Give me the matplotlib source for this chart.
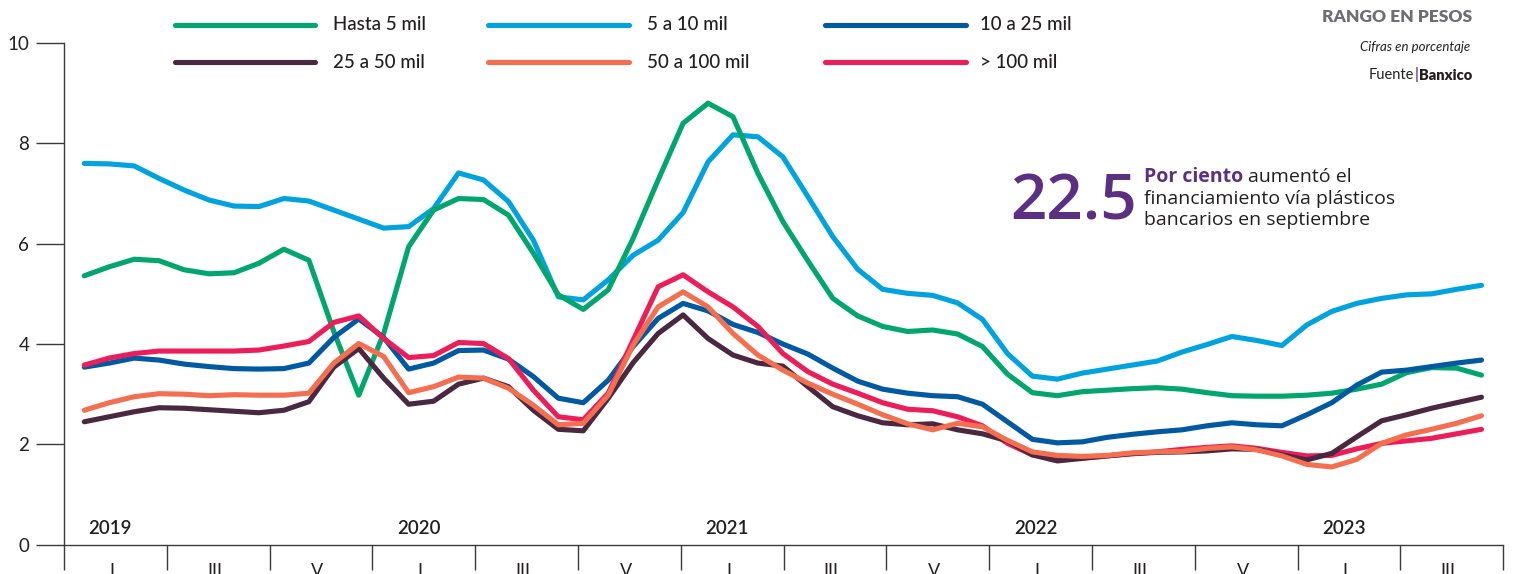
import numpy as np
import matplotlib
matplotlib.use("Agg")
import matplotlib.pyplot as plt
from matplotlib.lines import Line2D

plt.rcParams['font.family'] = ['Lato', 'DejaVu Sans']

# ---------------- data (monthly, Jan 2019 - Sep 2023) ----------------
series_names = ["Hasta 5 mil", "5 a 10 mil", "10 a 25 mil",
                "25 a 50 mil", "50 a 100 mil", "> 100 mil"]

hasta_5 = [5.36, 5.54, 5.69, 5.66, 5.48, 5.40, 5.42, 5.61, 5.89, 5.67,
           4.25, 2.98, 4.21, 5.94, 6.67, 6.90, 6.88, 6.57, 5.81, 4.98,
           4.69, 5.08, 6.11, 7.27, 8.40, 8.80, 8.53, 7.40, 6.44, 5.66,
           4.91, 4.56, 4.35, 4.25, 4.28, 4.20, 3.95, 3.40, 3.03, 2.97,
           3.05, 3.08, 3.11, 3.13, 3.10, 3.03, 2.97, 2.96, 2.96, 2.98,
           3.02, 3.10, 3.20, 3.43, 3.53, 3.52, 3.38]
de_5_a_10 = [7.60, 7.59, 7.55, 7.30, 7.07, 6.87, 6.75, 6.74, 6.90, 6.85,
             6.67, 6.49, 6.31, 6.34, 6.70, 7.41, 7.27, 6.84, 6.07, 4.94,
             4.88, 5.28, 5.77, 6.07, 6.62, 7.63, 8.17, 8.13, 7.73, 6.94,
             6.14, 5.49, 5.09, 5.01, 4.97, 4.82, 4.49, 3.81, 3.36, 3.30,
             3.42, 3.50, 3.58, 3.66, 3.84, 3.99, 4.15, 4.07, 3.97, 4.38,
             4.65, 4.81, 4.91, 4.98, 5.00, 5.09, 5.17]
de_10_a_25 = [3.54, 3.62, 3.72, 3.68, 3.60, 3.55, 3.51, 3.50, 3.51, 3.62,
              4.13, 4.50, 4.13, 3.50, 3.62, 3.87, 3.88, 3.70, 3.35, 2.92,
              2.83, 3.28, 3.95, 4.51, 4.81, 4.66, 4.39, 4.23, 4.00, 3.80,
              3.52, 3.26, 3.10, 3.02, 2.97, 2.95, 2.80, 2.45, 2.10, 2.03,
              2.05, 2.14, 2.20, 2.25, 2.29, 2.37, 2.43, 2.39, 2.37, 2.59,
              2.83, 3.18, 3.44, 3.48, 3.55, 3.62, 3.68]
de_25_a_50 = [2.45, 2.55, 2.65, 2.73, 2.72, 2.69, 2.66, 2.63, 2.68, 2.85,
              3.54, 3.91, 3.32, 2.80, 2.86, 3.20, 3.32, 3.15, 2.68, 2.30,
              2.27, 2.92, 3.63, 4.21, 4.58, 4.11, 3.78, 3.62, 3.56, 3.15,
              2.75, 2.57, 2.43, 2.39, 2.41, 2.29, 2.21, 2.07, 1.79, 1.67,
              1.72, 1.77, 1.82, 1.84, 1.85, 1.87, 1.91, 1.90, 1.79, 1.69,
              1.82, 2.15, 2.47, 2.59, 2.72, 2.83, 2.94]
de_50_a_100 = [2.68, 2.83, 2.95, 3.01, 3.00, 2.97, 2.99, 2.98, 2.98, 3.02,
               3.62, 4.01, 3.75, 3.03, 3.15, 3.34, 3.32, 3.12, 2.78, 2.39,
               2.42, 2.98, 3.98, 4.74, 5.04, 4.74, 4.21, 3.78, 3.48, 3.22,
               3.00, 2.80, 2.59, 2.41, 2.29, 2.42, 2.35, 2.08, 1.85, 1.78,
               1.76, 1.78, 1.83, 1.85, 1.86, 1.92, 1.95, 1.89, 1.77, 1.60,
               1.55, 1.70, 2.02, 2.19, 2.30, 2.42, 2.57]
mas_de_100 = [3.58, 3.72, 3.81, 3.86, 3.86, 3.86, 3.86, 3.88, 3.96, 4.05,
              4.43, 4.56, 4.11, 3.73, 3.77, 4.03, 4.01, 3.71, 3.08, 2.55,
              2.49, 3.02, 4.08, 5.14, 5.38, 5.04, 4.74, 4.35, 3.81, 3.45,
              3.20, 3.02, 2.83, 2.70, 2.67, 2.55, 2.37, 2.02, 1.79, 1.72,
              1.73, 1.77, 1.81, 1.85, 1.90, 1.94, 1.97, 1.92, 1.84, 1.77,
              1.78, 1.91, 2.02, 2.07, 2.12, 2.21, 2.30]

segment_labels = ["I", "III", "V", "I", "III", "V", "I", "III", "V",
                  "I", "III", "V", "I", "III"]
year_labels = ["2019", "2020", "2021", "2022", "2023"]
y_ticks = [0, 2, 4, 6, 8, 10]

colors = ["#00A66B", "#00A3DD", "#0059A1", "#4A2841", "#F36F50", "#EC1E5A"]
all_series = [hasta_5, de_5_a_10, de_10_a_25, de_25_a_50, de_50_a_100, mas_de_100]

# ---------------- figure ----------------
W, H = 1514, 574
fig = plt.figure(figsize=(W / 100, H / 100), dpi=100)
ax = fig.add_axes([64 / W, 29.3 / H, (1503.3 - 64) / W, (544.7 - 43) / H])

months = np.arange(len(hasta_5))
zorders = [3, 2, 4, 5, 6, 4.5]
for vals, c, name, z in zip(all_series, colors, series_names, zorders):
    ax.plot(months, vals, color=c, lw=3.7, solid_capstyle='round',
            solid_joinstyle='round', label=name, zorder=z)

x0 = -0.8136
seg = 4.1206
ax.set_xlim(x0, x0 + 14 * seg)
ax.set_ylim(0, 10)

for s in ['top', 'right']:
    ax.spines[s].set_visible(False)
for s in ['left', 'bottom']:
    ax.spines[s].set_color('#3a3a3a')
    ax.spines[s].set_linewidth(1.0)

ax.set_yticks(y_ticks)
ax.set_yticklabels([str(t) for t in y_ticks])
ax.tick_params(axis='y', direction='out', length=20, width=1.0,
               color='#3a3a3a', pad=5, labelsize=13.5, labelcolor='#231f20')

bounds = [x0 + k * seg for k in range(15)]
ax.set_xticks(bounds)
ax.set_xticklabels([''] * len(bounds))
ax.tick_params(axis='x', which='major', direction='out', length=18,
               width=1.0, color='#3a3a3a')
centers = [x0 + (k + 0.5) * seg - 0.15 for k in range(14)]
ax.set_xticks(centers, minor=True)
ax.set_xticklabels(segment_labels, minor=True)
ax.tick_params(axis='x', which='minor', length=0, pad=13, labelsize=13,
               labelcolor='#231f20')

for k, yl in enumerate(year_labels):
    xc = x0 + (3 * k + 0.5) * seg - 0.2
    ax.text(xc, 0.33, yl, ha='center', va='center', fontsize=13.5,
            color='#231f20', fontweight='semibold')

# ---------------- legend (manual) ----------------
leg_cols = [(175, 315, 333), (488, 629, 647), (825, 966, 980)]
leg_rows = [25, 62.5]
for i, (name, c) in enumerate(zip(series_names, colors)):
    r, col = divmod(i, 3)
    xa, xb, xt = leg_cols[col]
    yy = 1 - leg_rows[r] / H
    fig.add_artist(Line2D([xa / W, xb / W], [yy, yy], color=c, lw=3.7,
                          solid_capstyle='round', transform=fig.transFigure))
    fig.text(xt / W, yy, name, ha='left', va='center', fontsize=13.5,
             color='#231f20', fontweight='medium')

# ---------------- header text top right ----------------
fig.text(1472 / W, 1 - 17 / H, "RANGO EN PESOS", ha='right', va='center',
         fontsize=12.5, fontweight='heavy', color='#6d6e71')
fig.text(1470 / W, 1 - 47 / H, "Cifras en porcentaje", ha='right',
         va='center', fontsize=9.5, style='italic', color='#231f20')
t_b = fig.text(1472 / W, 1 - 75 / H, "Banxico", ha='right', va='center',
               fontsize=10.5, fontweight='heavy', color='#231f20')
fig.canvas.draw()
bb = t_b.get_window_extent()
t_bar = fig.text((bb.x0 - 0.5) / W, 1 - 75 / H, "|", ha='right',
                 va='center', fontsize=10.5, fontweight='bold',
                 color='#6a3d97')
bb2 = t_bar.get_window_extent()
fig.text((bb2.x0 - 0.5) / W, 1 - 75 / H, "Fuente", ha='right', va='center',
         fontsize=10.5, color='#231f20')

# ---------------- annotation ----------------
purple = '#5B2F82'
fig.text(1010 / W, 1 - 203 / H, "22.5", ha='left', va='center',
         fontsize=46, color=purple, fontweight='semibold',
         fontfamily=['Open Sans', 'DejaVu Sans'])
tp = fig.text(1144 / W, 1 - 177 / H, "Por ciento", ha='left', va='center',
              fontsize=14, fontweight='bold', color=purple,
              fontfamily=['Open Sans', 'DejaVu Sans'])
fig.canvas.draw()
bbp = tp.get_window_extent()
fig.text((bbp.x1 + 5) / W, 1 - 177 / H, "aumentó el", ha='left',
         va='center', fontsize=14, color='#231f20',
         fontfamily=['Open Sans', 'DejaVu Sans'])
fig.text(1144 / W, 1 - 199 / H, "financiamiento vía plásticos", ha='left',
         va='center', fontsize=14, color='#231f20',
         fontfamily=['Open Sans', 'DejaVu Sans'])
fig.text(1144 / W, 1 - 220 / H, "bancarios en septiembre", ha='left',
         va='center', fontsize=14, color='#231f20',
         fontfamily=['Open Sans', 'DejaVu Sans'])

fig.savefig("out.png", dpi=100)
